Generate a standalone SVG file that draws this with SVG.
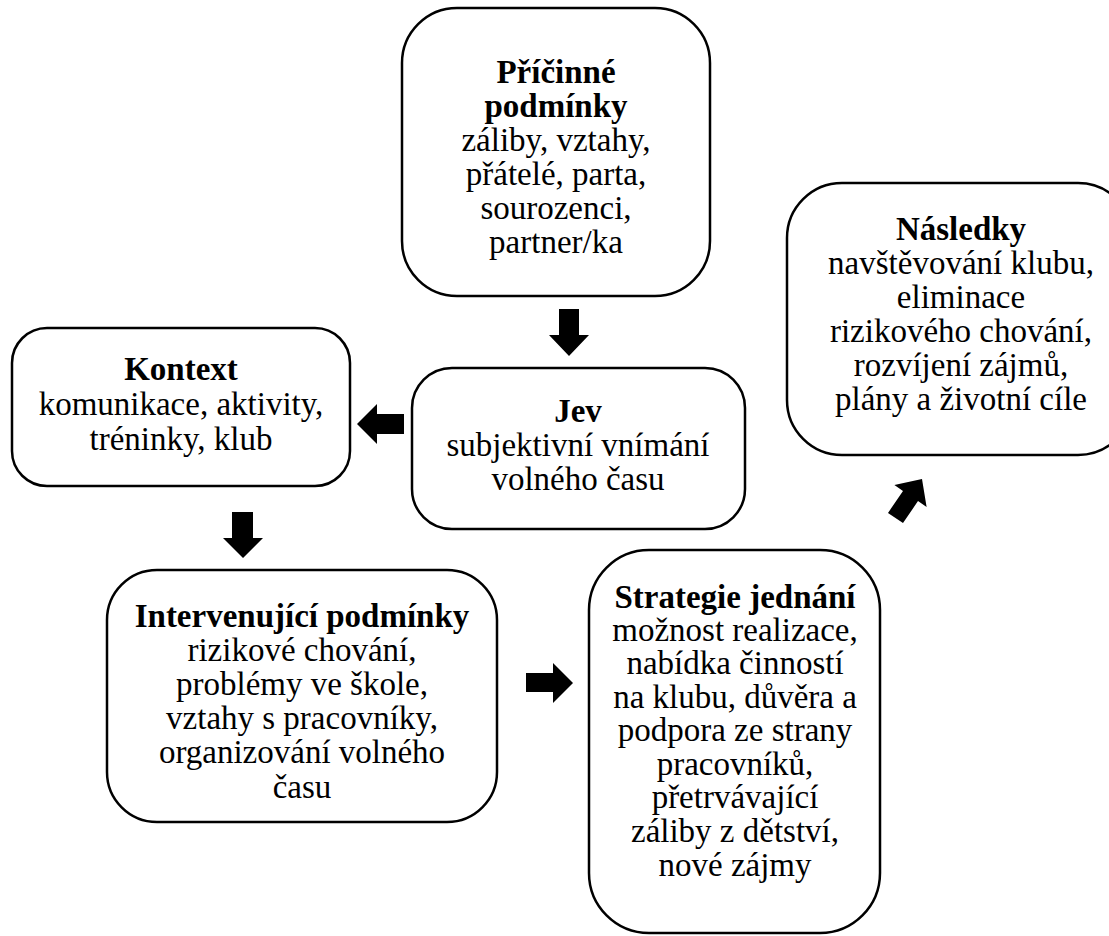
<svg xmlns="http://www.w3.org/2000/svg" width="1109" height="936" viewBox="0 0 1109 936">
<style>
.box{fill:#fff;stroke:#000;stroke-width:2.5}
text{font-family:"Liberation Serif","Times New Roman",serif;font-size:33px;fill:#000;text-anchor:middle}
.b{font-weight:bold}
.arr{fill:#000;stroke:none}
</style>
<rect width="1109" height="936" fill="#fff"/>
<g id="pricinne">
<rect class="box" x="402" y="8" width="308" height="288" rx="55" ry="55"/>
<text x="556" y="83" class="b">Příčinné</text>
<text x="556" y="117" class="b">podmínky</text>
<text x="556" y="151">záliby, vztahy,</text>
<text x="556" y="185">přátelé, parta,</text>
<text x="556" y="219">sourozenci,</text>
<text x="556" y="253">partner/ka</text>
</g>
<g id="jev">
<rect class="box" x="412" y="368" width="333" height="161" rx="40" ry="40"/>
<text x="578" y="422" class="b">Jev</text>
<text x="578" y="456">subjektivní vnímání</text>
<text x="578" y="490">volného času</text>
</g>
<g id="kontext">
<rect class="box" x="12" y="328" width="338" height="158" rx="35" ry="35"/>
<text x="181" y="380" class="b">Kontext</text>
<text x="181" y="415">komunikace, aktivity,</text>
<text x="181" y="450">tréninky, klub</text>
</g>
<g id="intervenujici">
<rect class="box" x="107" y="570" width="390" height="252" rx="50" ry="50"/>
<text x="302" y="627" class="b">Intervenující podmínky</text>
<text x="302" y="661">rizikové chování,</text>
<text x="302" y="695">problémy ve škole,</text>
<text x="302" y="729">vztahy s pracovníky,</text>
<text x="302" y="763">organizování volného</text>
<text x="302" y="798">času</text>
</g>
<g id="strategie">
<rect class="box" x="589" y="550" width="291" height="383" rx="60" ry="60"/>
<text x="735" y="608" class="b">Strategie jednání</text>
<text x="735" y="641">možnost realizace,</text>
<text x="735" y="674">nabídka činností</text>
<text x="735" y="708">na klubu, důvěra a</text>
<text x="735" y="741">podpora ze strany</text>
<text x="735" y="775">pracovníků,</text>
<text x="735" y="808">přetrvávající</text>
<text x="735" y="842">záliby z dětství,</text>
<text x="735" y="876">nové zájmy</text>
</g>
<g id="nasledky">
<rect class="box" x="787" y="183" width="346" height="272" rx="55" ry="55"/>
<text x="961" y="240" class="b">Následky</text>
<text x="961" y="274">navštěvování klubu,</text>
<text x="961" y="308">eliminace</text>
<text x="961" y="342">rizikového chování,</text>
<text x="961" y="376">rozvíjení zájmů,</text>
<text x="961" y="410">plány a životní cíle</text>
</g>
<g id="connectors">
<polygon class="arr" points="559,309 579,309 579,335 589,335 569,356 549,335 559,335"/>
<polygon class="arr" points="404,414 404,434 377,434 377,444 357,424 377,404 377,414"/>
<polygon class="arr" points="232,512 253,512 253,538 263,538 243,558 223,538 232,538"/>
<polygon class="arr" points="526,673 553,673 553,663 573,683 553,703 553,692 526,692"/>
<polygon class="arr" points="922,479 926.6,506.9 918,501.1 903,523.1 888,512.9 903,490.9 894.4,485.1"/>
</g>
</svg>
